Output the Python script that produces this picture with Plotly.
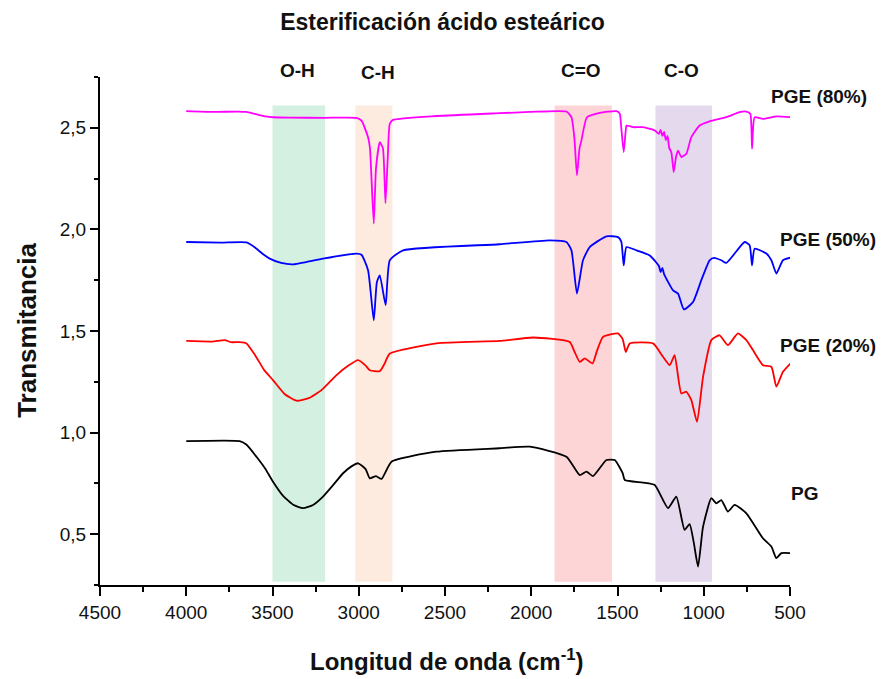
import plotly.graph_objects as go

# FTIR spectra (wavenumber in cm-1, transmittance offset per sample)
wn_pge80 = [4000, 3850, 3700, 3651, 3600, 3540, 3497, 3400, 3200, 3013, 2984, 2946, 2935, 2913,
            2900, 2878, 2860, 2845, 2832, 2820, 2801, 2550, 2183, 2009, 1796, 1767, 1750, 1735,
            1720, 1709, 1677, 1603, 1506, 1487, 1478, 1464, 1452, 1448, 1410, 1352, 1284, 1260,
            1250, 1240, 1230, 1220, 1210, 1200, 1188, 1174, 1160, 1149, 1130, 1101, 1072, 1024,
            966, 869, 792, 753, 730, 720, 705, 657, 579, 498]
t_pge80 = [2.582, 2.578, 2.580, 2.578, 2.568, 2.556, 2.552, 2.550, 2.549, 2.549, 2.535, 2.454,
           2.40, 2.028, 2.30, 2.429, 2.40, 2.129, 2.35, 2.52, 2.539, 2.558, 2.572, 2.578, 2.580,
           2.552, 2.45, 2.266, 2.40, 2.438, 2.552, 2.574, 2.582, 2.570, 2.50, 2.38, 2.49, 2.511,
           2.503, 2.503, 2.487, 2.47, 2.49, 2.46, 2.48, 2.44, 2.46, 2.40, 2.38, 2.282, 2.36, 2.388,
           2.356, 2.372, 2.454, 2.511, 2.532, 2.552, 2.577, 2.580, 2.569, 2.397, 2.552, 2.544,
           2.556, 2.552]

wn_pge50 = [4000, 3800, 3651, 3600, 3550, 3516, 3450, 3381, 3300, 3207, 3013, 2984, 2946, 2913,
            2895, 2878, 2844, 2820, 2743, 2183, 1893, 1796, 1767, 1735, 1700, 1661, 1564, 1497,
            1478, 1464, 1448, 1390, 1313, 1260, 1250, 1240, 1230, 1178, 1149, 1115, 1062, 1014,
            966, 940, 898, 869, 763, 734, 720, 705, 637, 608, 579, 541, 498]
t_pge50 = [1.938, 1.935, 1.936, 1.91, 1.875, 1.856, 1.835, 1.828, 1.84, 1.856, 1.881, 1.875, 1.799,
           1.553, 1.74, 1.774, 1.627, 1.848, 1.897, 1.927, 1.946, 1.938, 1.897, 1.684, 1.848,
           1.913, 1.966, 1.962, 1.94, 1.823, 1.913, 1.897, 1.872, 1.82, 1.79, 1.81, 1.78, 1.700,
           1.684, 1.606, 1.643, 1.75, 1.848, 1.86, 1.848, 1.835, 1.938, 1.922, 1.823, 1.905,
           1.881, 1.848, 1.783, 1.848, 1.861]

wn_pge20 = [4000, 3850, 3777, 3740, 3690, 3651, 3600, 3550, 3497, 3430, 3361, 3290, 3216, 3129,
            3060, 3004, 2960, 2936, 2878, 2850, 2820, 2550, 2183, 1990, 1777, 1750, 1719, 1690,
            1645, 1620, 1584, 1497, 1470, 1452, 1429, 1294, 1236, 1197, 1169, 1130, 1101, 1072,
            1039, 1004, 956, 908, 860, 802, 753, 715, 657, 608, 579, 541, 498]
t_pge20 = [1.451, 1.448, 1.455, 1.445, 1.445, 1.439, 1.38, 1.31, 1.258, 1.19, 1.157, 1.17, 1.209,
           1.283, 1.33, 1.357, 1.33, 1.307, 1.302, 1.34, 1.389, 1.439, 1.451, 1.468, 1.446, 1.40,
           1.348, 1.365, 1.34, 1.40, 1.471, 1.488, 1.46, 1.397, 1.439, 1.439, 1.373, 1.332, 1.381,
           1.193, 1.201, 1.16, 1.053, 1.274, 1.455, 1.479, 1.43, 1.488, 1.455, 1.406, 1.332,
           1.324, 1.226, 1.299, 1.34]

wn_pg = [4000, 3690, 3650, 3593, 3540, 3497, 3440, 3380, 3323, 3265, 3207, 3150, 3091, 3040,
         3004, 2960, 2936, 2900, 2868, 2810, 2550, 2183, 2009, 1796, 1719, 1680, 1642, 1564,
         1516, 1470, 1458, 1352, 1284, 1207, 1159, 1111, 1082, 1058, 1033, 1004, 956, 927, 898,
         860, 821, 753, 657, 608, 579, 550, 498]
t_pg = [0.958, 0.958, 0.94, 0.881, 0.82, 0.758, 0.69, 0.645, 0.628, 0.644, 0.685, 0.74, 0.80,
        0.835, 0.849, 0.82, 0.775, 0.786, 0.772, 0.857, 0.906, 0.923, 0.931, 0.881, 0.791, 0.808,
        0.786, 0.865, 0.865, 0.80, 0.767, 0.754, 0.742, 0.628, 0.685, 0.521, 0.55, 0.46, 0.341,
        0.537, 0.677, 0.652, 0.668, 0.611, 0.644, 0.603, 0.48, 0.439, 0.382, 0.407, 0.407]

series_names = ["PGE (80%)", "PGE (50%)", "PGE (20%)", "PG"]
series_colors = ["#ff00ff", "#0000ff", "#ff0000", "#000000"]
# label positions in paper coordinates (right of the plot)
series_label_pos = [(1.0414, 0.9618), (1.0545, 0.6806), (1.0545, 0.4721), (1.0213, 0.181)]

# Absorption bands (wavenumber limits) and their labels
band_names = ["O-H", "C-H", "C=O", "C-O"]
band_lo = [3500, 3020, 1865, 1280]
band_hi = [3195, 2805, 1532, 952]
band_colors = ["#d3f0e1", "#fdebdf", "#fdd5d6", "#e5d9ee"]
band_label_pos = [(0.2866, 1.013), (0.4025, 1.009), (0.6967, 1.013), (0.8431, 1.013)]

y_ticks = [0.5, 1.0, 1.5, 2.0, 2.5]
y_ticktext = ["0,5", "1,0", "1,5", "2,0", "2,5"]
x_ticks = [4500, 4000, 3500, 3000, 2500, 2000, 1500, 1000, 500]

fig = go.Figure()

for lo, hi, col in zip(band_lo, band_hi, band_colors):
    fig.add_shape(type="rect", xref="x", yref="y", x0=lo, x1=hi, y0=0.266, y1=2.61,
                  fillcolor=col, line=dict(width=0), layer="below")

for wn, t, name, col in zip([wn_pge80, wn_pge50, wn_pge20, wn_pg],
                            [t_pge80, t_pge50, t_pge20, t_pg],
                            series_names, series_colors):
    fig.add_trace(go.Scatter(x=wn, y=t, mode="lines", name=name,
                             line=dict(color=col, width=1.8, shape="spline", smoothing=0.5),
                             showlegend=False))

font_family = "Liberation Sans, Arial, sans-serif"

for name, (lx, ly) in zip(series_names + band_names, series_label_pos + band_label_pos):
    fig.add_annotation(x=lx, y=ly, xref="paper", yref="paper", text=f"<b>{name}</b>",
                       xanchor="center", yanchor="middle", showarrow=False,
                       font=dict(size=19, color="#111111", family=font_family))

fig.add_annotation(x=-0.106, y=0.502, xref="paper", yref="paper", text="<b>Transmitancia</b>",
                   textangle=-90, xanchor="center", yanchor="middle", showarrow=False,
                   font=dict(size=26, color="#111111", family=font_family))
fig.add_annotation(x=0.5025, y=-0.1475, xref="paper", yref="paper",
                   text="<b>Longitud de onda (cm<sup>-1</sup>)</b>",
                   xanchor="center", yanchor="middle", showarrow=False,
                   font=dict(size=24, color="#111111", family=font_family))

fig.update_layout(
    width=885, height=679,
    margin=dict(l=100, r=95, t=77, b=94),
    paper_bgcolor="white", plot_bgcolor="white",
    title=dict(text="<b>Esterificación ácido esteárico</b>", x=0.5, xanchor="center",
               y=0.968, yanchor="middle", yref="container",
               font=dict(size=23, color="#111111", family=font_family)),
    font=dict(family=font_family, color="#111111"),
    xaxis=dict(range=[4500, 500], tickvals=x_ticks, ticktext=[str(v) for v in x_ticks],
               showgrid=False, zeroline=False, showline=True, linecolor="black", linewidth=2,
               ticks="outside", ticklen=9, tickwidth=2, tickcolor="black",
               tickfont=dict(size=19, family=font_family, color="#111111"),
               minor=dict(dtick=250, tick0=500, ticks="outside", ticklen=5, tickwidth=2,
                          tickcolor="black", showgrid=False)),
    yaxis=dict(range=[0.25, 2.75], tickvals=y_ticks, ticktext=y_ticktext,
               showgrid=False, zeroline=False, showline=True, linecolor="black", linewidth=2,
               ticks="outside", ticklen=8, tickwidth=2, tickcolor="black",
               tickfont=dict(size=19, family=font_family, color="#111111"),
               minor=dict(dtick=0.25, tick0=0.25, ticks="outside", ticklen=4, tickwidth=2,
                          tickcolor="black", showgrid=False)),
)

fig.write_html("out.html")
